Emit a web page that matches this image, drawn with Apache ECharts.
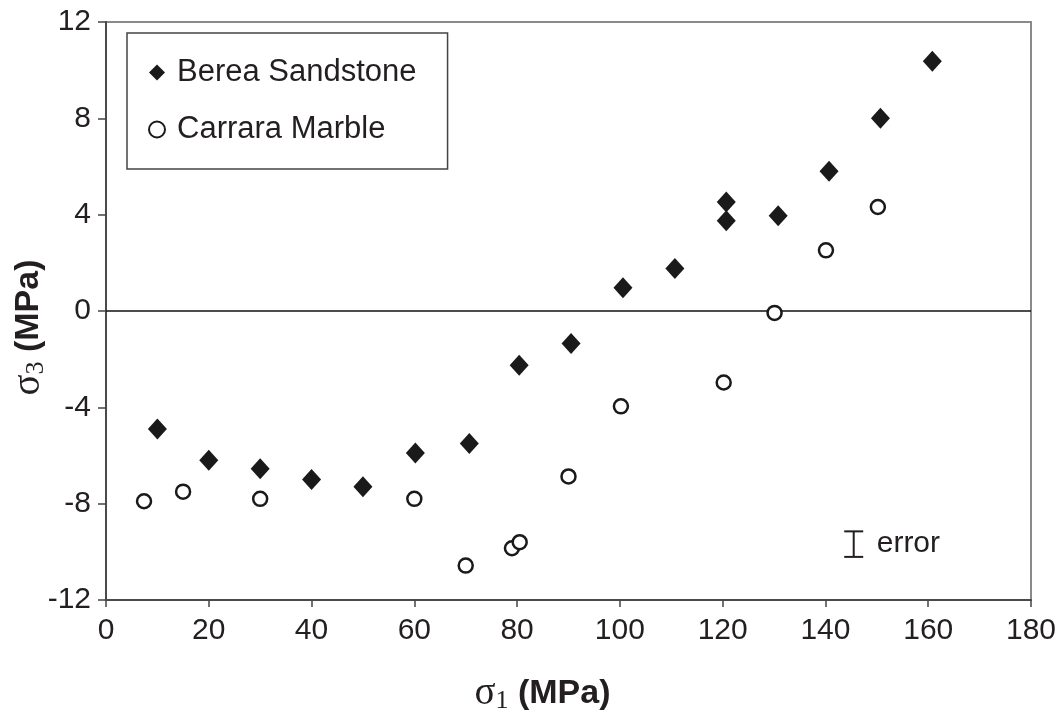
<!DOCTYPE html>
<html>
<head>
<meta charset="utf-8">
<script src="https://cdn.jsdelivr.net/npm/echarts@6/dist/echarts.min.js"></script>
<style>
html,body{margin:0;padding:0;background:#fff;}
#chart{width:1064px;height:713px;}
</style>
</head>
<body>
<div id="chart"></div>
<script>
// Berea Sandstone: [sigma1, sigma3] (MPa)
const bereaSigma1 = [10, 20, 30, 40, 50, 60.2, 70.7, 80.4, 90.5, 100.6, 110.7, 120.7, 120.7, 130.8, 140.7, 150.7, 160.8];
const bereaSigma3 = [-4.9, -6.2, -6.55, -7.0, -7.3, -5.9, -5.5, -2.25, -1.35, 0.97, 1.76, 4.53, 3.75, 3.95, 5.8, 8.0, 10.37];
// Carrara Marble
const carraraSigma1 = [7.4, 15, 30, 60, 70, 79, 80.5, 90, 100.2, 120.2, 130.1, 140.1, 150.2];
const carraraSigma3 = [-7.9, -7.5, -7.8, -7.8, -10.57, -9.85, -9.6, -6.87, -3.96, -2.97, -0.08, 2.52, 4.32];
// error bar indicator: [sigma1, sigma3 centre, half-length]
const errorBar = [[145.5, -9.68, 0.53]];
const errorLabel = 'error';
const seriesNames = ['Berea Sandstone', 'Carrara Marble'];
const xTicks = {min: 0, max: 180, interval: 20};
const yTicks = {min: -12, max: 12, interval: 4};

const zip = (a, b) => a.map((v, i) => [v, b[i]]);
const ink = '#231f20';
const sans = 'Liberation Sans';
const serif = 'Liberation Serif';

const nameRich = {
  s: {fontFamily: serif, fontSize: 39, lineHeight: 40, color: ink},
  sub: {fontFamily: serif, fontSize: 26, lineHeight: 28, verticalAlign: 'bottom', color: ink},
  b: {fontFamily: sans, fontWeight: 'bold', fontSize: 34, lineHeight: 40, color: ink}
};

const chart = echarts.init(document.getElementById('chart'), null, {renderer: 'canvas'});
chart.setOption({
  animation: false,
  backgroundColor: '#fff',
  grid: {left: 106, top: 22, right: 33, bottom: 113, containLabel: false, outerBoundsMode: 'none',
         show: true, borderColor: '#8a8a8a', borderWidth: 2, backgroundColor: 'transparent'},
  legend: {
    orient: 'vertical',
    left: 127, top: 33,
    padding: [24, 31, 24, 21],
    borderColor: '#444', borderWidth: 1.5,
    itemWidth: 16, itemHeight: 16, itemGap: 26,
    data: [{name: seriesNames[0], icon: 'diamond'}, {name: seriesNames[1], icon: 'circle'}],
    formatter: '{t|{name}}',
    textStyle: {
      color: ink, fontFamily: sans, fontSize: 31, lineHeight: 30,
      rich: {t: {color: ink, fontFamily: sans, fontSize: 31, lineHeight: 30, padding: [0, 0, 0, 7]}}
    }
  },
  xAxis: {
    type: 'value', min: xTicks.min, max: xTicks.max, interval: xTicks.interval,
    axisLine: {onZero: false, lineStyle: {color: '#4a4a4a', width: 2}},
    axisTick: {show: true, length: 7, lineStyle: {color: '#444', width: 1.5}},
    axisLabel: {color: ink, fontFamily: sans, fontSize: 30, margin: 16},
    splitLine: {show: false},
    name: '{s|σ}{sub|1}{b| (MPa)}',
    nameLocation: 'middle', nameGap: 74, nameMoveOverlap: false,
    nameTextStyle: {padding: [0, 52, 0, 0], rich: nameRich}
  },
  yAxis: {
    type: 'value', min: yTicks.min, max: yTicks.max, interval: yTicks.interval,
    axisLine: {lineStyle: {color: '#4a4a4a', width: 2}},
    axisTick: {show: true, length: 8, lineStyle: {color: '#444', width: 1.5}},
    axisLabel: {color: ink, fontFamily: sans, fontSize: 30, margin: 15},
    splitLine: {show: false},
    name: '{s|σ}{sub|3}{b| (MPa)}',
    nameLocation: 'middle', nameGap: 57, nameRotate: 90, nameMoveOverlap: false,
    nameTextStyle: {padding: [0, 33, 0, 0], rich: nameRich}
  },
  series: [
    {
      name: seriesNames[0], type: 'scatter', symbol: 'diamond', symbolSize: [19, 21], z: 3,
      itemStyle: {color: '#1a1a1a', opacity: 1},
      data: zip(bereaSigma1, bereaSigma3),
      markLine: {
        silent: true, symbol: 'none', label: {show: false}, z: 1,
        lineStyle: {color: '#111', width: 1.5, type: 'solid'},
        data: [{yAxis: 0}]
      }
    },
    {
      name: seriesNames[1], type: 'scatter', symbol: 'circle', symbolSize: 14, z: 4,
      itemStyle: {color: '#fff', borderColor: '#1a1a1a', borderWidth: 2.5, opacity: 1},
      data: zip(carraraSigma1, carraraSigma3)
    },
    {
      type: 'custom', silent: true, z: 4,
      data: errorBar,
      renderItem: function (params, api) {
        const x = api.value(0), y = api.value(1), e = api.value(2);
        const top = api.coord([x, y + e]);
        const bot = api.coord([x, y - e]);
        const mid = api.coord([x, y]);
        const hw = 9.5;
        const ls = {stroke: ink, lineWidth: 2};
        return {
          type: 'group',
          children: [
            {type: 'line', shape: {x1: top[0], y1: top[1], x2: bot[0], y2: bot[1]}, style: ls},
            {type: 'line', shape: {x1: top[0] - hw, y1: top[1], x2: top[0] + hw, y2: top[1]}, style: ls},
            {type: 'line', shape: {x1: bot[0] - hw, y1: bot[1], x2: bot[0] + hw, y2: bot[1]}, style: ls},
            {type: 'text', x: mid[0] + 23, y: mid[1], style: {text: errorLabel, fill: ink, font: '30px "Liberation Sans"', textVerticalAlign: 'middle', textAlign: 'left'}}
          ]
        };
      }
    }
  ]
});
</script>
</body>
</html>
